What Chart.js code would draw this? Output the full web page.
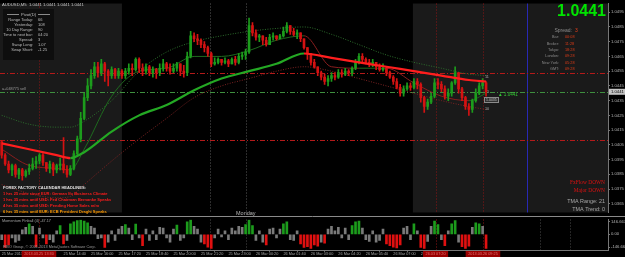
<!doctype html>
<html lang="en">
<head>
<meta charset="UTF-8" />
<title>AUDUSD,M5</title>
<script src="https://cdn.jsdelivr.net/npm/chart.js"></script>
<style>
  body { margin: 0; background: #000; overflow: hidden; }
  #wrap { position: relative; width: 625px; height: 257px; background: #000; }
  #main { position: absolute; left: 0; top: 0; }
  #sub { position: absolute; left: 0; top: 216px; }
</style>
</head>
<body>
<div id="wrap">
  <canvas id="main" width="625" height="216"></canvas>
  <canvas id="sub" width="625" height="41"></canvas>
</div>
<script>
// ---- data (bars are 10-min slots, open = previous close) ----
const firstOpen = 1.0407;
const closes = [
  1.0398, 1.0392, 1.0388, 1.0391, 1.0385, 1.0388, 1.0384, 1.0387, 1.0389, 1.0392,
  1.0394, 1.0398, 1.0393, 1.0389, 1.0392, 1.0388, 1.0391, 1.0392, 1.0388, 1.0385,
  1.0389, 1.0399, 1.0409, 1.0423, 1.0437, 1.0445, 1.0452, 1.0458, 1.0454, 1.0460,
  1.0455, 1.0452, 1.0456, 1.0452, 1.0455, 1.0452, 1.0455, 1.0457, 1.0456, 1.0463,
  1.0457, 1.0455, 1.0458, 1.0454, 1.0456, 1.0454, 1.0457, 1.0460, 1.0457, 1.0455,
  1.0457, 1.0460, 1.0455, 1.0454, 1.0465, 1.0479, 1.0477, 1.0476, 1.0473, 1.0471,
  1.0467, 1.0460, 1.0461, 1.0463, 1.0461, 1.0462, 1.0460, 1.0463, 1.0461, 1.0465,
  1.0466, 1.0468, 1.0486, 1.0481, 1.0478, 1.0479, 1.0476, 1.0473, 1.0478, 1.0479,
  1.0477, 1.0479, 1.0482, 1.0486, 1.0482, 1.0480, 1.0481, 1.0477, 1.0471, 1.0467,
  1.0461, 1.0458, 1.0454, 1.0451, 1.0448, 1.0450, 1.0452, 1.0451, 1.0454, 1.0453,
  1.0455, 1.0454, 1.0457, 1.0461, 1.0465, 1.0463, 1.0461, 1.0460, 1.0461, 1.0458,
  1.0456, 1.0457, 1.0454, 1.0451, 1.0448, 1.0444, 1.0440, 1.0443, 1.0445, 1.0444,
  1.0448, 1.0446, 1.0437, 1.0431, 1.0434, 1.0438, 1.0447, 1.0446, 1.0443, 1.0438,
  1.0440, 1.0447, 1.0454, 1.0443, 1.0437, 1.0431, 1.0429, 1.0435, 1.0440, 1.0445,
  1.0447, 1.0441
];
const highs = [
  1.0408, 1.0399, 1.0394, 1.0392, 1.0392, 1.0389, 1.0389, 1.0388, 1.0392, 1.0396,
  1.0397, 1.0399, 1.0399, 1.0393, 1.0394, 1.0393, 1.0392, 1.0396, 1.0410, 1.0391,
  1.0391, 1.0401, 1.0411, 1.0427, 1.0440, 1.0450, 1.0456, 1.0461, 1.0461, 1.0463,
  1.0461, 1.0456, 1.0458, 1.0457, 1.0457, 1.0456, 1.0457, 1.0460, 1.0460, 1.0464,
  1.0464, 1.0460, 1.0460, 1.0459, 1.0458, 1.0457, 1.0460, 1.0463, 1.0461, 1.0460,
  1.0460, 1.0461, 1.0460, 1.0459, 1.0468, 1.0482, 1.0481, 1.0480, 1.0477, 1.0475,
  1.0472, 1.0468, 1.0464, 1.0464, 1.0463, 1.0464, 1.0463, 1.0464, 1.0465, 1.0467,
  1.0468, 1.0470, 1.0491, 1.0488, 1.0483, 1.0480, 1.0479, 1.0478, 1.0480, 1.0481,
  1.0479, 1.0480, 1.0485, 1.0488, 1.0486, 1.0484, 1.0483, 1.0481, 1.0477, 1.0471,
  1.0467, 1.0463, 1.0458, 1.0455, 1.0453, 1.0452, 1.0454, 1.0454, 1.0456, 1.0456,
  1.0457, 1.0456, 1.0458, 1.0463, 1.0467, 1.0467, 1.0464, 1.0463, 1.0463, 1.0461,
  1.0460, 1.0460, 1.0458, 1.0455, 1.0452, 1.0450, 1.0446, 1.0445, 1.0447, 1.0447,
  1.0450, 1.0450, 1.0447, 1.0438, 1.0436, 1.0440, 1.0450, 1.0450, 1.0448, 1.0445,
  1.0443, 1.0448, 1.0458, 1.0454, 1.0444, 1.0438, 1.0433, 1.0436, 1.0443, 1.0447,
  1.0450, 1.0448
];
const lows = [
  1.0396, 1.0391, 1.0386, 1.0384, 1.0383, 1.0382, 1.0381, 1.0383, 1.0385, 1.0388,
  1.0389, 1.0392, 1.0391, 1.0387, 1.0386, 1.0384, 1.0386, 1.0388, 1.0386, 1.0383,
  1.0384, 1.0388, 1.0398, 1.0407, 1.0422, 1.0435, 1.0443, 1.0450, 1.0451, 1.0452,
  1.0448, 1.0445, 1.0450, 1.0450, 1.0450, 1.0450, 1.0450, 1.0453, 1.0452, 1.0455,
  1.0454, 1.0452, 1.0453, 1.0452, 1.0451, 1.0450, 1.0452, 1.0455, 1.0455, 1.0453,
  1.0454, 1.0455, 1.0452, 1.0451, 1.0452, 1.0464, 1.0475, 1.0473, 1.0471, 1.0468,
  1.0465, 1.0458, 1.0459, 1.0460, 1.0459, 1.0460, 1.0458, 1.0460, 1.0459, 1.0460,
  1.0463, 1.0463, 1.0467, 1.0479, 1.0476, 1.0475, 1.0473, 1.0472, 1.0473, 1.0476,
  1.0476, 1.0477, 1.0478, 1.0481, 1.0480, 1.0479, 1.0477, 1.0475, 1.0470, 1.0463,
  1.0459, 1.0457, 1.0452, 1.0449, 1.0446, 1.0445, 1.0448, 1.0449, 1.0450, 1.0451,
  1.0452, 1.0452, 1.0452, 1.0456, 1.0460, 1.0461, 1.0460, 1.0458, 1.0458, 1.0456,
  1.0455, 1.0455, 1.0452, 1.0450, 1.0446, 1.0443, 1.0438, 1.0438, 1.0442, 1.0442,
  1.0443, 1.0443, 1.0434, 1.0427, 1.0429, 1.0433, 1.0437, 1.0443, 1.0441, 1.0436,
  1.0435, 1.0438, 1.0446, 1.0440, 1.0435, 1.0429, 1.0425, 1.0427, 1.0434, 1.0439,
  1.0443, 1.0438
];

// moving averages / TMA bands, sampled at these bars
const maBars = [0, 8, 16, 20, 24, 32, 40, 48, 56, 64, 72, 80, 88, 96, 104, 112, 120, 128, 136, 141];
const maSlow = [1.0406, 1.0402, 1.0398, 1.0396, 1.0400, 1.0414, 1.0425, 1.0432, 1.0442, 1.0450,
                1.0455, 1.0460, 1.0467, 1.0464, 1.0461, 1.0458, 1.0455, 1.0452, 1.0449, 1.0448];
const maFast = [1.0402, 1.0391, 1.0389, 1.0388, 1.0402, 1.0438, 1.0455, 1.0457, 1.0465, 1.0465,
                1.0469, 1.0476, 1.0479, 1.0458, 1.0457, 1.0457, 1.0447, 1.0438, 1.0435, 1.0440];
const bandUpper = [1.0425, 1.0419, 1.0417, 1.0417, 1.0421, 1.0435, 1.0455, 1.0468, 1.0475, 1.0479,
                   1.0482, 1.0484, 1.0485, 1.0480, 1.0473, 1.0466, 1.0461, 1.0457, 1.0453, 1.0452];
const bandLower = [1.0378, 1.0372, 1.0369, 1.0370, 1.0378, 1.0394, 1.0409, 1.0423, 1.0437, 1.0445,
                   1.0450, 1.0455, 1.0458, 1.0455, 1.0450, 1.0445, 1.0440, 1.0435, 1.0431, 1.0429];

// Momentum (4) histogram
const momentum = [
  -60, -150, -120, -40, -90, -70, 50, 80, 120, 90,
  -140, 70, -40, -110, -60, -90, 40, 100, -110, -70,
  120, 140, 155, 160, 150, 130, 90, 70, -50, -40,
  -150, -90, 40, -70, 60, 90, 110, 70, -60, 115,
  -40, -130, 60, -70, 40, -60, 80, 70, -40, -90,
  60, 105, -70, -40, 140, 160, 90, 60, -90, -110,
  -145, -160, -40, 60, -30, 40, -60, 70, 40, 90,
  80, 110, 160, 100, -70, 40, -90, -120, 60, 70,
  -40, 60, 120, 140, -60, -70, 40, -110, -150, -140,
  -160, -120, -135, -90, -100, 60, 90, 40, 80, -40,
  70, -60, 100, 140, 150, 70, -60, -80, 40, -90,
  -70, 60, -110, -130, -145, -155, -120, 70, 90, -60,
  120, 40, -150, -160, -80, 90, 150, 110, -60, -130,
  40, 120, 155, -90, -140, -160, -135, 80, 130, 120,
  90, -160
];

const priceTicks = [1.0495, 1.0485, 1.0475, 1.0465, 1.0455, 1.0445, 1.0435, 1.0425,
                    1.0415, 1.0405, 1.0395, 1.0385, 1.0375, 1.0365];
const momTicks = [146.667, 0, -146.667];
const momTickLabels = ['146.667', '0.00', '-146.667'];
const timeBars = [0, 18, 26, 34, 42, 50, 58, 66, 74, 82, 90, 98, 106, 114, 122];
const timeLabels = ['25 Mar 2013', '25 Mar 14:40', '25 Mar 16:00', '25 Mar 17:20', '25 Mar 18:40',
                    '25 Mar 20:00', '25 Mar 21:20', '25 Mar 23:00', '26 Mar 00:20', '26 Mar 01:40',
                    '26 Mar 03:00', '26 Mar 04:20', '26 Mar 05:40', '26 Mar 07:00', '26 Mar 08:20'];

const bid = 1.0441;
const redLevels = [1.0454, 1.0408];
const sessionLines = [60.6, 71.1];
const redMarks = [
  { bar: 10.85, label: '2013.03.25 13:30' },
  { bar: 126.3, label: '26.03 07:20' },
  { bar: 140.1, label: '2013.03.26 09:25' }
];
const blueLine = 152.9;
const shadeSpans = [[-0.5, 35.0], [119.7, 176.5]];

const pivotRows = [['Range Today:', '66'], ['Yesterday:', '108'], ['10 Day Range:', '90'],
                   ['Time to next bar:', '04:20'], ['Spread:', '3'], ['Swap Long:', '1.07'],
                   ['Swap Short:', '-1.25']];
const sessionRows = [['Bar:', '00:08'], ['Broker:', '11:28'], ['Tokyo:', '18:28'],
                     ['London:', '09:28'], ['New York:', '05:28'], ['GMT:', '09:28']];
const headlines = [
  ['1 hrs 25 mins since EUR: German Ifo Business Climate', '#ff1c1c'],
  ['1 hrs 35 mins until USD: Fed Chairman Bernanke Speaks', '#ff1c1c'],
  ['4 hrs 35 mins until USD: Pending Home Sales m/m', '#ff1c1c'],
  ['6 hrs 35 mins until EUR: ECB President Draghi Speaks', '#ff9a00']
];

// ---- helpers ----
Chart.defaults.font.family = 'Liberation Sans';
const X_MIN = -0.5, X_MAX = 176.5;
const opens = closes.map((c, i) => (i === 0 ? firstOpen : closes[i - 1]));
const isUp = closes.map((c, i) => c >= opens[i]);
const GREEN = '#1c9c1c', RED = '#d41212';

function txt(ctx, s, x, y, size, color, align, weight, family) {
  ctx.font = (weight || 'normal') + ' ' + size + 'px ' + (family || 'Liberation Sans');
  ctx.fillStyle = color;
  ctx.textAlign = align || 'left';
  ctx.textBaseline = 'middle';
  ctx.fillText(s, x, y);
}
function vline(ctx, x, top, bottom, color, dash, width) {
  ctx.save();
  ctx.strokeStyle = color;
  ctx.lineWidth = width || 1;
  ctx.setLineDash(dash || []);
  ctx.beginPath();
  ctx.moveTo(Math.round(x) + 0.5, top);
  ctx.lineTo(Math.round(x) + 0.5, bottom);
  ctx.stroke();
  ctx.restore();
}
function hline(ctx, y, left, right, color, dash) {
  ctx.save();
  ctx.strokeStyle = color;
  ctx.lineWidth = 1;
  ctx.setLineDash(dash || []);
  ctx.beginPath();
  ctx.moveTo(left, Math.round(y) + 0.5);
  ctx.lineTo(right, Math.round(y) + 0.5);
  ctx.stroke();
  ctx.restore();
}
function maData(vals) {
  return maBars.map((b, k) => ({ x: b, y: vals[k] }));
}

const mainDecor = {
  id: 'mainDecor',
  beforeDraw(chart) {
    const { ctx, chartArea: a, scales: { x } } = chart;
    ctx.save();
    ctx.fillStyle = '#000';
    ctx.fillRect(0, 0, chart.width, chart.height);
    ctx.fillStyle = '#1a1a1a';
    shadeSpans.forEach(([b0, b1]) => {
      const x0 = x.getPixelForValue(b0), x1 = x.getPixelForValue(b1);
      ctx.fillRect(x0, a.top, x1 - x0, a.bottom - a.top);
    });
    ctx.restore();
  },
  beforeDatasetsDraw(chart) {
    const { ctx, chartArea: a, scales: { x, y } } = chart;
    sessionLines.forEach(b => vline(ctx, x.getPixelForValue(b), a.top, a.bottom, '#5a5a5a', [1, 2]));
    redMarks.forEach(m => vline(ctx, x.getPixelForValue(m.bar), a.top, a.bottom, '#8c1616', [1, 2]));
    vline(ctx, x.getPixelForValue(blueLine), a.top, a.bottom, '#2828b4');
    redLevels.forEach(v => hline(ctx, y.getPixelForValue(v), a.left, a.right, '#b41a1a', [5, 2, 1, 2]));
    hline(ctx, y.getPixelForValue(bid), a.left, a.right, '#3f8f3f', [5, 2, 1, 2]);
  },
  afterDraw(chart) {
    const { ctx, chartArea: a, scales: { x, y } } = chart;
    ctx.save();
    // symbol line
    txt(ctx, 'AUDUSD,M5  1.0441 1.0441 1.0441 1.0441', 2, 5, 4.2, '#c8c8c8');
    // pivot panel
    ctx.fillStyle = '#0e0e0e';
    ctx.fillRect(3, 9, 51, 51);
    txt(ctx, 'Pivot(D)', 28.5, 14.5, 4.2, '#bdbdbd', 'center');
    hline(ctx, 14, 7, 19, '#8a8a8a');
    hline(ctx, 14, 38, 50, '#8a8a8a');
    pivotRows.forEach((r, k) => {
      txt(ctx, r[0], 33, 19.5 + k * 5.1, 4, '#bdbdbd', 'right');
      txt(ctx, r[1], 38, 19.5 + k * 5.1, 4, '#bdbdbd', 'left');
    });
    txt(ctx, 'a+048775 sell', 2, 89, 3.8, '#9a9a9a');
    // big bid
    txt(ctx, '1.0441', 606, 11.5, 16, '#00e400', 'right', 'bold');
    txt(ctx, 'Spread:', 572, 31, 5, '#8e8e8e', 'right');
    txt(ctx, '3', 575, 31, 5, '#e8401c');
    sessionRows.forEach((r, k) => {
      txt(ctx, r[0], 559, 37 + k * 6.45, 3.8, '#8a8a8a', 'right');
      txt(ctx, r[1], 565, 37 + k * 6.45, 3.8, '#dc3c18');
    });
    // marks near last bar
    txt(ctx, '11', 485, 77, 3.8, '#a8a8a8');
    txt(ctx, '1', 487, 92, 3.8, '#a8a8a8');
    txt(ctx, '\u25B2 1.0441', 498, 94.5, 4.6, '#34c834');
    ctx.fillStyle = '#303030';
    ctx.fillRect(484, 97, 15, 6);
    ctx.strokeStyle = '#8a8a8a';
    ctx.strokeRect(484.5, 97.5, 14, 5);
    txt(ctx, '1.0435', 486, 100.3, 3.5, '#c0c0c0');
    txt(ctx, '10', 485, 109, 3.8, '#a8a8a8');
    // headlines
    txt(ctx, 'FOREX FACTORY CALENDAR HEADLINES:', 3, 188, 4, '#e0e0e0', 'left', 'bold');
    headlines.forEach((h, k) => txt(ctx, h[0], 3, 194.3 + k * 6, 4, h[1], 'left', 'bold'));
    txt(ctx, 'Monday', 236, 213, 5.5, '#b8b8b8');
    // trend panel
    txt(ctx, 'FxFlow DOWN', 605, 183, 5.4, '#e01010', 'right', 'normal', 'Liberation Serif');
    txt(ctx, 'Major DOWN', 605, 191, 5.4, '#e01010', 'right', 'normal', 'Liberation Serif');
    txt(ctx, 'TMA Range: 21', 605, 202, 5.4, '#a8a8a8', 'right');
    txt(ctx, 'TMA Trend: 0', 605, 210, 5.4, '#a8a8a8', 'right');
    // bid box on the price axis
    const by = y.getPixelForValue(bid);
    ctx.fillStyle = '#c4c4c4';
    ctx.fillRect(a.right + 1, by - 3, 16, 6);
    txt(ctx, '1.0441', a.right + 3, by, 4.2, '#000');
    ctx.restore();
  }
};

new Chart(document.getElementById('main'), {
  type: 'bar',
  data: {
    datasets: [
      {
        type: 'line', data: maData(maSlow), borderWidth: 2.2, pointRadius: 0,
        cubicInterpolationMode: 'monotone', order: 1,
        segment: { borderColor: c => (c.p1.parsed.y >= c.p0.parsed.y ? '#24a824' : '#ff1e1e') }
      },
      {
        data: closes.map((c, i) => ({ x: i, y: [opens[i], c] })),
        backgroundColor: isUp.map(u => (u ? GREEN : RED)),
        barThickness: 2, minBarLength: 1, grouped: false, order: 2
      },
      {
        data: closes.map((c, i) => ({ x: i, y: [lows[i], highs[i]] })),
        backgroundColor: isUp.map(u => (u ? GREEN : RED)),
        barThickness: 1, grouped: false, order: 3
      },
      {
        type: 'line', data: maData(maFast), borderWidth: 1, pointRadius: 0,
        cubicInterpolationMode: 'monotone', order: 4,
        segment: { borderColor: c => (c.p1.parsed.y >= c.p0.parsed.y ? '#1e6a1e' : '#8a1e1e') }
      },
      {
        type: 'line', data: maData(bandUpper), borderWidth: 1, borderDash: [1, 1.5], pointRadius: 0,
        borderColor: '#2c6e2c', cubicInterpolationMode: 'monotone', order: 5
      },
      {
        type: 'line', data: maData(bandLower), borderWidth: 1, borderDash: [1, 1.5], pointRadius: 0,
        borderColor: '#7e2222', cubicInterpolationMode: 'monotone', order: 5
      }
    ]
  },
  options: {
    responsive: false, animation: false, events: [],
    layout: { padding: 0 },
    plugins: { legend: { display: false }, tooltip: { enabled: false } },
    scales: {
      x: { type: 'linear', min: X_MIN, max: X_MAX, offset: false, display: false },
      y: {
        position: 'right', min: 1.035909, max: 1.050091, beginAtZero: false,
        afterFit: s => { s.width = 17; },
        afterBuildTicks: s => { s.ticks = priceTicks.map(v => ({ value: v })); },
        ticks: { autoSkip: false, padding: 1, color: '#b4b4b4', font: { size: 4.2 }, callback: v => v.toFixed(4) },
        grid: { drawOnChartArea: false, color: '#777', tickLength: 2 },
        border: { color: '#777' }
      }
    }
  },
  plugins: [mainDecor]
});

const subDecor = {
  id: 'subDecor',
  beforeDatasetsDraw(chart) {
    const { ctx, chartArea: a, scales: { x } } = chart;
    hline(ctx, 0, 0, chart.width, '#8a8a8a');
    sessionLines.concat([156.7, 165.4]).forEach(b => vline(ctx, x.getPixelForValue(b), a.top, a.bottom, '#4a4a4a', [1, 2]));
    redMarks.forEach(m => vline(ctx, x.getPixelForValue(m.bar), a.top, a.bottom, '#8c1616', [1, 2]));
  },
  afterDraw(chart) {
    const { ctx, chartArea: a, scales: { x } } = chart;
    ctx.save();
    txt(ctx, 'Momentum Pinball (4) -47.17', 2, 5, 3.8, '#a0a0a0');
    txt(ctx, 'FIBO Group, \u00A9 2001-2013 MetaQuotes Software Corp.', 3, 31, 3.8, '#9a9a9a');
    redMarks.forEach(m => {
      ctx.font = '3.8px Liberation Sans';
      const w = ctx.measureText(m.label).width + 5;
      const cx = x.getPixelForValue(m.bar);
      ctx.fillStyle = '#9a0000';
      ctx.fillRect(cx - w / 2, a.bottom + 1, w, 6);
      txt(ctx, m.label, cx, a.bottom + 4, 3.8, '#e07070', 'center');
    });
    ctx.restore();
  }
};

new Chart(document.getElementById('sub'), {
  type: 'bar',
  data: {
    datasets: [{
      data: momentum.map((v, i) => ({ x: i, y: v })),
      backgroundColor: momentum.map(v => (v >= 100 ? '#1c9c1c' : v <= -100 ? '#e01010' : '#7a7a7a')),
      barThickness: 2, grouped: false
    }]
  },
  options: {
    responsive: false, animation: false, events: [],
    layout: { padding: { top: 1 } },
    plugins: { legend: { display: false }, tooltip: { enabled: false } },
    scales: {
      x: {
        type: 'linear', min: X_MIN, max: X_MAX, offset: false, position: 'bottom',
        afterFit: s => { s.height = 7; },
        afterBuildTicks: s => { s.ticks = timeBars.map(v => ({ value: v })); },
        ticks: {
          autoSkip: false, maxRotation: 0, align: 'start', padding: 0,
          color: '#a4a4a4', font: { size: 3.8 }, callback: (v, i) => timeLabels[i]
        },
        grid: { drawOnChartArea: false, color: '#666', tickLength: 2 },
        border: { color: '#777' }
      },
      y: {
        position: 'right', min: -178.1, max: 167.6, beginAtZero: false,
        afterFit: s => { s.width = 17; },
        afterBuildTicks: s => { s.ticks = momTicks.map(v => ({ value: v })); },
        ticks: { autoSkip: false, padding: 1, color: '#b4b4b4', font: { size: 4.2 }, callback: (v, i) => momTickLabels[i] },
        grid: { drawOnChartArea: false, color: '#777', tickLength: 2 },
        border: { color: '#777' }
      }
    }
  },
  plugins: [subDecor]
});
</script>
</body>
</html>
